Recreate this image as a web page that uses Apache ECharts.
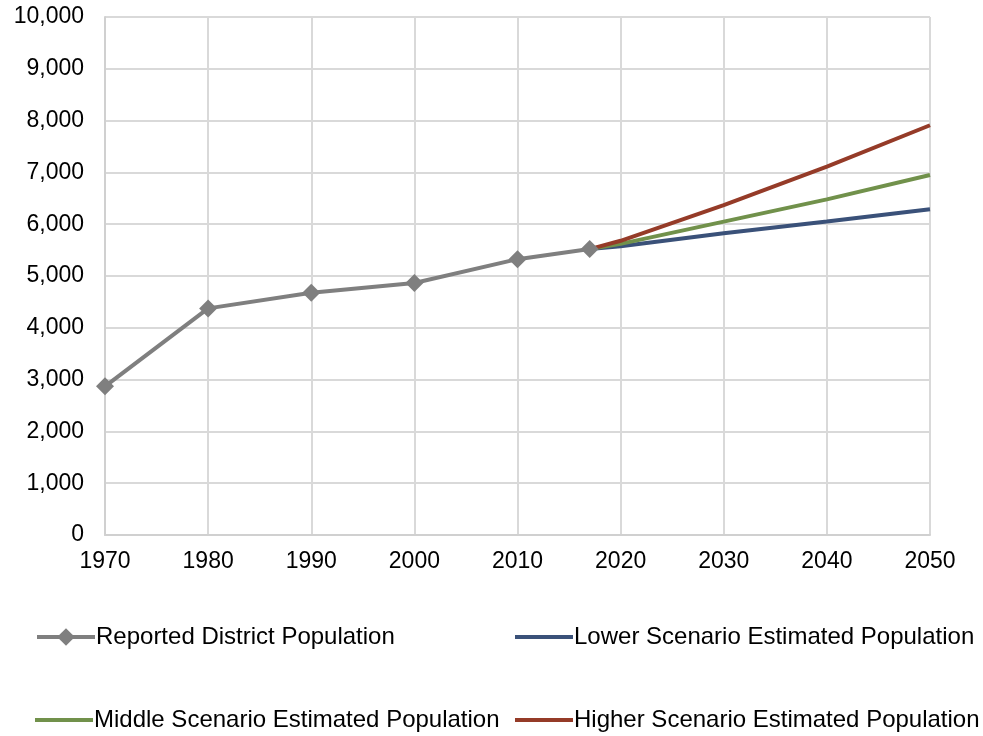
<!DOCTYPE html>
<html>
<head>
<meta charset="utf-8">
<script src="https://cdn.jsdelivr.net/npm/echarts@6/dist/echarts.min.js"></script>
<style>
html,body{margin:0;padding:0;background:#fff;}
#c{width:983px;height:736px;}
</style>
</head>
<body>
<div id="c"></div>
<script>
var reportedYears = [1970, 1980, 1990, 2000, 2010, 2017];
var reportedValues = [2870, 4375, 4675, 4865, 5325, 5520];
var projYears = [2017, 2020, 2030, 2040, 2050];
var lowerValues = [5520, 5575, 5825, 6050, 6290];
var middleValues = [5520, 5620, 6050, 6480, 6950];
var higherValues = [5520, 5680, 6370, 7110, 7910];
var seriesNames = ['Reported District Population', 'Lower Scenario Estimated Population', 'Middle Scenario Estimated Population', 'Higher Scenario Estimated Population'];

function pairs(xs, ys){ return xs.map(function(x,i){ return [x, ys[i]]; }); }

var FONT = '"Liberation Sans", Arial, sans-serif';
var FS = 23;
var LFS = 24;
var chart = echarts.init(document.getElementById('c'), null, {renderer:'canvas'});
function legend(name, left, top, isLine){
  var l = {
    data:[name], left:left, top:top, itemWidth:58, itemGap:0, padding:0,
    textStyle:{fontFamily:FONT, fontSize:LFS, color:'#000', padding:[0,0,0,-4]}
  };
  if (isLine) {
    l.itemHeight = 22;
    l.lineStyle = {width:4};
  } else {
    l.icon = 'rect';
    l.itemHeight = 4;
  }
  return l;
}
chart.setOption({
  animation:false,
  backgroundColor:'#fff',
  grid:{left:105, right:53, top:17, bottom:201, containLabel:false},
  legend:[
    legend(seriesNames[0], 35, 625, true),
    legend(seriesNames[1], 515, 625, false),
    legend(seriesNames[2], 35, 708, false),
    legend(seriesNames[3], 515, 708, false)
  ],
  xAxis:{
    type:'value', min:1970, max:2050, interval:10,
    axisLine:{show:true, lineStyle:{color:'#d0d0d0', width:2}},
    axisTick:{show:false},
    splitLine:{show:true, lineStyle:{color:'#d9d9d9', width:2}},
    axisLabel:{fontFamily:FONT, fontSize:FS, color:'#000', margin:15, formatter:function(v){return String(v);}}
  },
  yAxis:{
    type:'value', min:0, max:10000, interval:1000,
    axisLine:{show:true, lineStyle:{color:'#d0d0d0', width:2}},
    axisTick:{show:false},
    splitLine:{show:true, lineStyle:{color:'#d9d9d9', width:2}},
    axisLabel:{fontFamily:FONT, fontSize:FS, color:'#000', margin:21,
      formatter:function(v){return v.toLocaleString('en-US');}}
  },
  series:[
    {name:seriesNames[0], type:'line', data:pairs(reportedYears, reportedValues),
     symbol:'diamond', symbolSize:18, lineStyle:{color:'#7f7f7f', width:4},
     itemStyle:{color:'#7f7f7f'}, z:3},
    {name:seriesNames[1], type:'line', data:pairs(projYears, lowerValues), symbol:'none',
     lineStyle:{color:'#3a5179', width:4}, itemStyle:{color:'#3a5179'}, z:2},
    {name:seriesNames[2], type:'line', data:pairs(projYears, middleValues), symbol:'none',
     lineStyle:{color:'#71914b', width:4}, itemStyle:{color:'#71914b'}, z:2},
    {name:seriesNames[3], type:'line', data:pairs(projYears, higherValues), symbol:'none',
     lineStyle:{color:'#953b28', width:4}, itemStyle:{color:'#953b28'}, z:2}
  ]
});
</script>
</body>
</html>
